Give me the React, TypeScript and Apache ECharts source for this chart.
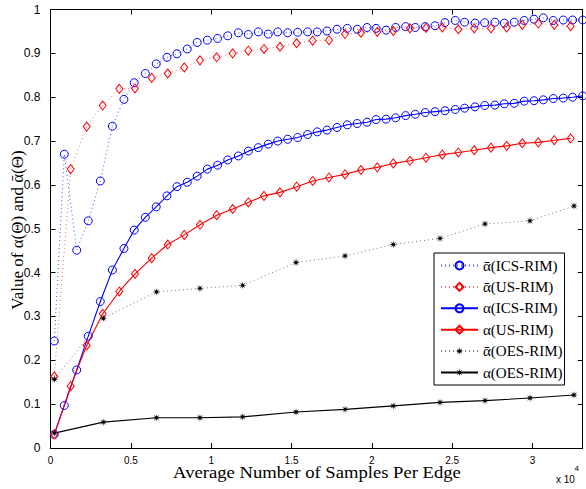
import React, { useEffect, useRef } from 'react';
import * as echarts from 'echarts';

// x values: average number of samples per edge
const icsX = [236, 859, 1630, 2350, 3100, 3850, 4570, 5210, 5900, 6580,
  7250, 7870, 8510, 9130, 9760, 10400, 11030, 11690, 12310, 12930,
  13550, 14140, 14760, 15380, 16000, 16600, 17210, 17830, 18470, 19090,
  19700, 20260, 20880, 21480, 22100, 22700, 23320, 23930, 24550, 25190,
  25770, 26420, 27020, 27660, 28240, 28860, 29480, 30090, 30670, 31290,
  31910, 32490, 33120];
const icsBar = [0.244, 0.670, 0.451, 0.518, 0.609, 0.734, 0.795, 0.833, 0.854, 0.876,
  0.891, 0.899, 0.910, 0.925, 0.930, 0.934, 0.940, 0.947, 0.943, 0.949,
  0.944, 0.949, 0.947, 0.948, 0.949, 0.949, 0.951, 0.955, 0.957, 0.955,
  0.959, 0.957, 0.953, 0.959, 0.961, 0.959, 0.961, 0.963, 0.970, 0.975,
  0.971, 0.969, 0.970, 0.971, 0.969, 0.971, 0.975, 0.978, 0.981, 0.975,
  0.976, 0.976, 0.976];
const icsAlpha = [0.031, 0.097, 0.178, 0.255, 0.334, 0.406, 0.455, 0.497, 0.526, 0.550,
  0.575, 0.596, 0.606, 0.620, 0.636, 0.645, 0.657, 0.666, 0.677, 0.685,
  0.693, 0.700, 0.704, 0.708, 0.715, 0.721, 0.725, 0.731, 0.737, 0.740,
  0.743, 0.749, 0.750, 0.753, 0.758, 0.761, 0.765, 0.767, 0.769, 0.772,
  0.775, 0.778, 0.781, 0.782, 0.785, 0.786, 0.791, 0.792, 0.794, 0.797,
  0.798, 0.800, 0.803];

const usX = [236, 1257, 2253, 3248, 4281, 5258, 6297, 7293, 8326, 9303,
  10342, 11338, 12309, 13286, 14281, 15320, 16316, 17330, 18326, 19320,
  20336, 21332, 22370, 23367, 24380, 25376, 26370, 27410, 28388, 29360,
  30355, 31350, 32370];
const usBar = [0.163, 0.636, 0.733, 0.781, 0.819, 0.820, 0.844, 0.854, 0.868, 0.884,
  0.891, 0.900, 0.906, 0.910, 0.915, 0.923, 0.929, 0.930, 0.944, 0.947,
  0.949, 0.951, 0.957, 0.958, 0.959, 0.955, 0.957, 0.957, 0.959, 0.965,
  0.968, 0.965, 0.962];
const usAlpha = [0.031, 0.141, 0.234, 0.306, 0.357, 0.397, 0.433, 0.464, 0.486, 0.509,
  0.531, 0.545, 0.560, 0.575, 0.583, 0.596, 0.609, 0.617, 0.624, 0.634,
  0.640, 0.649, 0.655, 0.662, 0.669, 0.674, 0.679, 0.685, 0.689, 0.695,
  0.697, 0.702, 0.706];

const oesX = [240, 3286, 6596, 9300, 11960, 15280, 18330, 21330, 24240, 27040, 29840, 32580];
const oesBar = [0.157, 0.296, 0.356, 0.364, 0.371, 0.423, 0.438, 0.464, 0.478, 0.511, 0.518, 0.552];
const oesAlpha = [0.034, 0.059, 0.069, 0.069, 0.071, 0.082, 0.088, 0.096, 0.104, 0.108, 0.114, 0.121];

const xTicks = [0, 5000, 10000, 15000, 20000, 25000, 30000];
const X_MAX = 33120;

const AB = 'ᾱ'; // alpha with bar
const names = [
  `${AB}(ICS-RIM)`,
  `${AB}(US-RIM)`,
  'α(ICS-RIM)',
  'α(US-RIM)',
  `${AB}(OES-RIM)`,
  'α(OES-RIM)',
];

const STAR = 'path://M10 5 L6.48 5.61 L8.54 8.54 L5.61 6.48 L5 10 L4.39 6.48 L1.46 8.54 L3.52 5.61 L0 5 L3.52 4.39 L1.46 1.46 L4.39 3.52 L5 0 L5.61 3.52 L8.54 1.46 L6.48 4.39 Z';

const zip = (xs: number[], ys: number[]) => xs.map((x, i) => [x, ys[i]]);

const SERIF = 'Liberation Serif';
const SANS = 'Liberation Sans';

export default function App() {
  const ref = useRef<HTMLDivElement>(null);
  useEffect(() => {
    const chart = echarts.init(ref.current!, null, { renderer: 'svg' });
    const axisLine = { show: true, onZero: false, lineStyle: { color: '#000', width: 1 } };
    const tick = { show: true, inside: true, length: 5, lineStyle: { color: '#000', width: 1 } };
    const xBase = { type: 'value', min: 0, max: X_MAX, interval: 5000, splitLine: { show: false }, axisLine, axisTick: tick };
    const yBase = { type: 'value', min: 0, max: 1, interval: 0.1, splitLine: { show: false }, axisLine, axisTick: tick };
    const dotted = [1, 3];
    chart.setOption({
      animation: false,
      backgroundColor: '#fff',
      grid: { left: 50.5, right: 3.3, top: 9.5, bottom: 41, containLabel: false },
      xAxis: [
        {
          ...xBase, position: 'bottom',
          axisLabel: {
            color: '#000', fontFamily: SANS, fontSize: 10, margin: 7,
            formatter: (v: number) => (xTicks.includes(v) ? String(v / 10000) : ''),
          },
        },
        { ...xBase, position: 'top', axisLabel: { show: false } },
      ],
      yAxis: [
        {
          ...yBase, position: 'left',
          axisLabel: { color: '#000', fontFamily: SANS, fontSize: 12, margin: 10 },
        },
        { ...yBase, position: 'right', axisLabel: { show: false } },
      ],
      legend: {
        left: 434, top: 253, orient: 'vertical',
        itemWidth: 37, itemHeight: 10, itemGap: 6.4,
        padding: [5, 2, 5, 6],
        backgroundColor: '#fff', borderColor: '#000', borderWidth: 1, borderRadius: 0,
        textStyle: { fontFamily: SERIF, fontSize: 15, color: '#000', lineHeight: 14 },
        data: names,
      },
      series: [
        {
          name: names[0], type: 'line', data: zip(icsX, icsBar),
          symbol: 'circle', symbolSize: 8,
          itemStyle: { color: 'rgba(0,0,0,0)', borderColor: '#0000ff', borderWidth: 1 },
          lineStyle: { color: '#4d4dff', width: 1, type: dotted },
        },
        {
          name: names[1], type: 'line', data: zip(usX, usBar),
          symbol: 'diamond', symbolSize: [7, 9],
          itemStyle: { color: 'rgba(0,0,0,0)', borderColor: '#ff0000', borderWidth: 1 },
          lineStyle: { color: '#ff6666', width: 1, type: dotted },
        },
        {
          name: names[2], type: 'line', data: zip(icsX, icsAlpha),
          symbol: 'circle', symbolSize: 8,
          itemStyle: { color: 'rgba(0,0,0,0)', borderColor: '#0000ff', borderWidth: 1 },
          lineStyle: { color: '#0000ff', width: 1.1, type: 'solid' },
        },
        {
          name: names[3], type: 'line', data: zip(usX, usAlpha),
          symbol: 'diamond', symbolSize: [7, 9],
          itemStyle: { color: 'rgba(0,0,0,0)', borderColor: '#ff0000', borderWidth: 1 },
          lineStyle: { color: '#ff0000', width: 1.1, type: 'solid' },
        },
        {
          name: names[4], type: 'line', data: zip(oesX, oesBar),
          symbol: STAR, symbolSize: 8,
          itemStyle: { color: '#000' },
          lineStyle: { color: '#777', width: 1, type: dotted },
        },
        {
          name: names[5], type: 'line', data: zip(oesX, oesAlpha),
          symbol: STAR, symbolSize: 8,
          itemStyle: { color: '#000' },
          lineStyle: { color: '#000', width: 1.1, type: 'solid' },
        },
      ],
      graphic: [
        {
          type: 'text', x: 317, y: 473, scaleX: 1.165,
          style: {
            text: 'Average Number of Samples Per Edge', font: `16px "${SERIF}"`, fill: '#000',
            align: 'center', verticalAlign: 'middle', textAlign: 'center', textVerticalAlign: 'middle',
          },
        },
        {
          type: 'text', x: 17, y: 230, rotation: Math.PI / 2,
          style: {
            text: `Value of α(Θ) and ${AB}(Θ)`, font: `17px "${SERIF}"`, fill: '#000',
            align: 'center', verticalAlign: 'middle', textAlign: 'center', textVerticalAlign: 'middle',
          },
        },
        {
          type: 'text', x: 556, y: 479,
          style: {
            text: 'x 10', font: `10px "${SANS}"`, fill: '#000',
            align: 'left', verticalAlign: 'middle', textAlign: 'left', textVerticalAlign: 'middle',
          },
        },
        {
          type: 'text', x: 574.5, y: 468,
          style: {
            text: '4', font: `8px "${SANS}"`, fill: '#000',
            align: 'left', verticalAlign: 'middle', textAlign: 'left', textVerticalAlign: 'middle',
          },
        },
      ],
    });
    return () => chart.dispose();
  }, []);
  return (
    <div
      ref={ref}
      style={{ position: 'fixed', left: 0, top: 0, width: 586, height: 489, background: '#fff' }}
    />
  );
}
